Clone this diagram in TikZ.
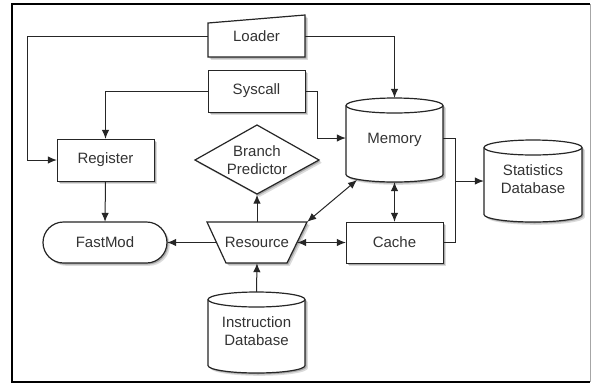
\documentclass[tikz,border=0pt]{standalone}
\usepackage{fontspec}
\setmainfont{Liberation Sans}
\usetikzlibrary{arrows.meta}

% a filled outline with a soft shadow below right
\newcommand\solid[1]{%
  \fill[black, opacity=0.14, shift={(2.8,2.8)}] #1;
  \fill[black, opacity=0.22, shift={(1.5,1.5)}] #1;
  \path[outline] #1;
}

% box outline from corner to corner, set on pixel centres
\newcommand\plainbox[4]{\solid{(#1+0.5,#2+0.5) -- (#3+0.5,#2+0.5) -- (#3+0.5,#4+0.5) -- (#1+0.5,#4+0.5) -- cycle}}

% cylinder: left x, top y, right x, bottom y
\newcommand\drumshape[4]{%
  \pgfmathsetmacro\drx{(#3-#1)/2}%
  \solid{(#1,#2+7.5) -- (#1,#4-7.5)
    arc[start angle=180,end angle=0,x radius=\drx,y radius=7.5]
    -- (#3,#2+7.5)
    arc[start angle=0,end angle=-180,x radius=\drx,y radius=7.5] -- cycle}
  \draw[line width=1.2pt, black!85] (#1,#2+7.5)
    arc[start angle=180,end angle=0,x radius=\drx,y radius=7.5];
}

\begin{document}
\begin{tikzpicture}[x=1pt,y=-1pt,
  font=\fontsize{15}{18}\selectfont,
  every node/.style={text=black!80},
  outline/.style={draw=black!85, line width=1.2pt, fill=white},
  box/.style={inner sep=0pt, minimum width=#1},
  link/.style={line width=1pt, black!85},
  arr/.style={link, -{Latex[length=9pt,width=7.5pt]}},
  darr/.style={link, {Latex[length=9pt,width=7.5pt]}-{Latex[length=9pt,width=7.5pt]}}
]
\useasboundingbox (0,0) rectangle (592,384);
\fill[white] (0,0) -- (592,0) -- (592,384) -- (0,384) -- cycle;

% frame
\draw[line width=2pt] (590,4) -- (12,4) -- (12,382) -- (590,382);
\draw[line width=1pt, black!35] (590.5,4) -- (590.5,382);

% Loader (manual input shape)
\solid{(208,23) -- (305,15) -- (305,57) -- (208,57) -- cycle}
\node[box=97pt, minimum height=42pt] (loader) at (256.5,36) {Loader};

% process boxes
\plainbox{208}{70}{305}{112}
\node[box=97pt, minimum height=42pt] (syscall) at (256.5,91) {Syscall};
\plainbox{57}{139}{154}{181}
\node[box=97pt, minimum height=42pt] (register) at (105.5,160) {Register};
\plainbox{346}{222}{443}{263}
\node[box=97pt, minimum height=41pt] (cache) at (394.5,242.5) {Cache};

% FastMod terminal
\solid{(63.5,222) -- (146.5,222) arc[start angle=-90,end angle=90,radius=20.5]
  -- (63.5,263) arc[start angle=90,end angle=270,radius=20.5] -- cycle}
\node[box=124pt, minimum height=41pt] (fastmod) at (105,242.5) {FastMod};

% Branch Predictor decision
\solid{(195,160) -- (257,125) -- (319,160) -- (257,194) -- cycle}
\node[box=124pt, minimum height=69pt, align=center] (branch) at (257,160)
  {Branch\\Predictor};

% Resource trapezium
\solid{(207,222) -- (307,222) -- (287,263) -- (226,263) -- cycle}
\node[box=100pt, minimum height=41pt] (resource) at (257,242.5) {Resource};

% databases
\drumshape{346}{98}{443}{182}
\node[box=97pt, minimum height=84pt] (memory) at (394.5,140)
  {\raisebox{-3pt}{Memory}};

\drumshape{484}{140}{582}{222}
\node[box=98pt, minimum height=82pt] (stats) at (533,181)
  {\raisebox{-5pt}{\begin{tabular}{@{}c@{}}Statistics\\Database\end{tabular}}};

\drumshape{208}{292}{305}{373}
\node[box=97pt, minimum height=81pt] (instr) at (256.5,332.5)
  {\raisebox{-4.5pt}{\begin{tabular}{@{}c@{}}Instruction\\Database\end{tabular}}};

\coordinate (memfoot) at (357,180);

% connectors
\draw[arr] (loader.west) -- ++(-180,0) |- (register.west);
\draw[arr] (loader.east) -| (memory.north);
\draw[arr] (syscall.west) -| (register.north);
\draw[arr] (syscall.east) -- ++(12,0) |- ([yshift=2pt]memory.west);
\draw[arr] (register.south) -- (fastmod.north);
\draw[arr] ([xshift=9.5pt]resource.west) -- (fastmod.east);
\draw[arr] (resource.north) -- (branch.south);
\draw[arr] (instr.north) -- (resource.south);
\draw[darr] ([xshift=-10pt]resource.east) -- (cache.west);
\draw[darr] (resource.north east) -- (memfoot);
\draw[darr] (memory.south) -- (cache.north);
\draw[link] (cache.east) -- ++(12,0) |- ([yshift=2pt]memory.east);
\draw[arr] ([yshift=2pt]memory.east) -- ++(12,0) |- (stats.west);
\end{tikzpicture}
\end{document}
